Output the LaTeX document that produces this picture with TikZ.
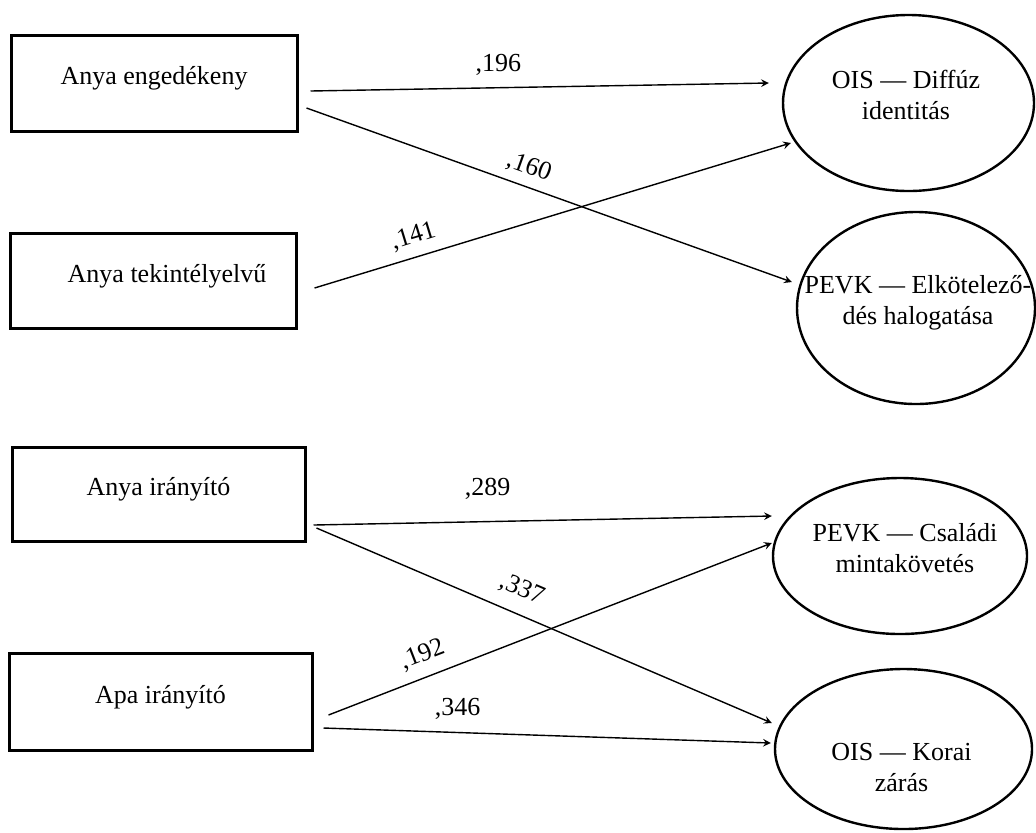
\documentclass[tikz,border=0pt]{standalone}
\usepackage{fontspec}
\setmainfont{Liberation Serif}
\usetikzlibrary{shapes,arrows,positioning}

\begin{document}
\begin{tikzpicture}[x=0.5pt, y=-0.5pt,
        box/.style={rectangle, draw, line width=1.5pt, align=center, text depth=7.5pt, font=\fontsize{13}{15.5}\selectfont},
        blob/.style={ellipse, draw, line width=1.2pt, inner sep=0pt},
        txt/.style={align=center, font=\fontsize{13}{15.5}\selectfont},
        arrow/.style={->, >=stealth, line width=0.7pt},
        lbl/.style={font=\fontsize{13}{15.5}\selectfont, inner sep=2pt}
    ]
    \useasboundingbox (0,0) rectangle (1036,832);

    % Predictors
    \node[box, minimum width=143pt, minimum height=48pt] (eng) at (154,83) {Anya engedékeny};
    \node[box, minimum width=143pt, minimum height=47.5pt] (tek) at (153,280.5) {\hspace*{14pt}Anya tekintélyelvű};
    \node[box, minimum width=146.5pt, minimum height=47pt] (iran) at (158.5,494) {Anya irányító};
    \node[box, minimum width=151.5pt, minimum height=48.5pt] (apa) at (160.5,701.5) {Apa irányító};

    % Outcomes
    \node[blob, minimum width=125.5pt, minimum height=88pt] (oisd) at (908.5,103) {};
    \node[blob, minimum width=119pt, minimum height=96pt] (pevke) at (916,308) {};
    \node[blob, minimum width=127pt, minimum height=78pt] (pevkc) at (900,556) {};
    \node[blob, minimum width=128.5pt, minimum height=80pt] (oisk) at (903.5,749) {};
    \node[txt] (oisdtext) at (906,95) {OIS — Diffúz\\identitás};
    \node[txt] (pevketext) at (918,302.5) {PEVK — Elkötelező-\\dés halogatása};
    \node[txt] (pevkctext) at (905,548.5) {PEVK — Családi\\mintakövetés};
    \node[txt] (oisktext) at (901.5,767.5) {OIS — Korai\\zárás};

    % Paths, upper block
    \draw[arrow] ([shift={(12,8)}]eng.east) -- node[lbl, above=4pt, pos=0.41] {,196} ([shift={(-13,-20)}]oisd.west);
    \draw[arrow] ([shift={(8,25)}]eng.east) -- node[lbl, sloped, above=2pt, pos=0.445] {,160} ([shift={(-4,-26)}]pevke.west);
    \draw[arrow] ([shift={(17,7.5)}]tek.east) -- node[lbl, sloped, above=2.5pt, pos=0.22] {,141} ([shift={(9,40)}]oisd.west);

    % Paths, lower block
    \draw[arrow] ([shift={(7,31)}]iran.east) -- node[lbl, above=8.5pt, pos=0.38] {,289} ([shift={(0,-40)}]pevkc.west);
    \draw[arrow] ([shift={(10,34)}]iran.east) -- node[lbl, sloped, above=4.5pt, pos=0.43] {,337} ([shift={(-2,-26)}]oisk.west);
    \draw[arrow] ([shift={(15,13.5)}]apa.east) -- node[lbl, sloped, above=3.5pt, pos=0.23] {,192} ([shift={(0,-13)}]pevkc.west);
    \draw[arrow] ([shift={(10,26.5)}]apa.east) -- node[lbl, above=4pt, pos=0.3] {,346} ([shift={(-3,-6)}]oisk.west);

\end{tikzpicture}
\end{document}
